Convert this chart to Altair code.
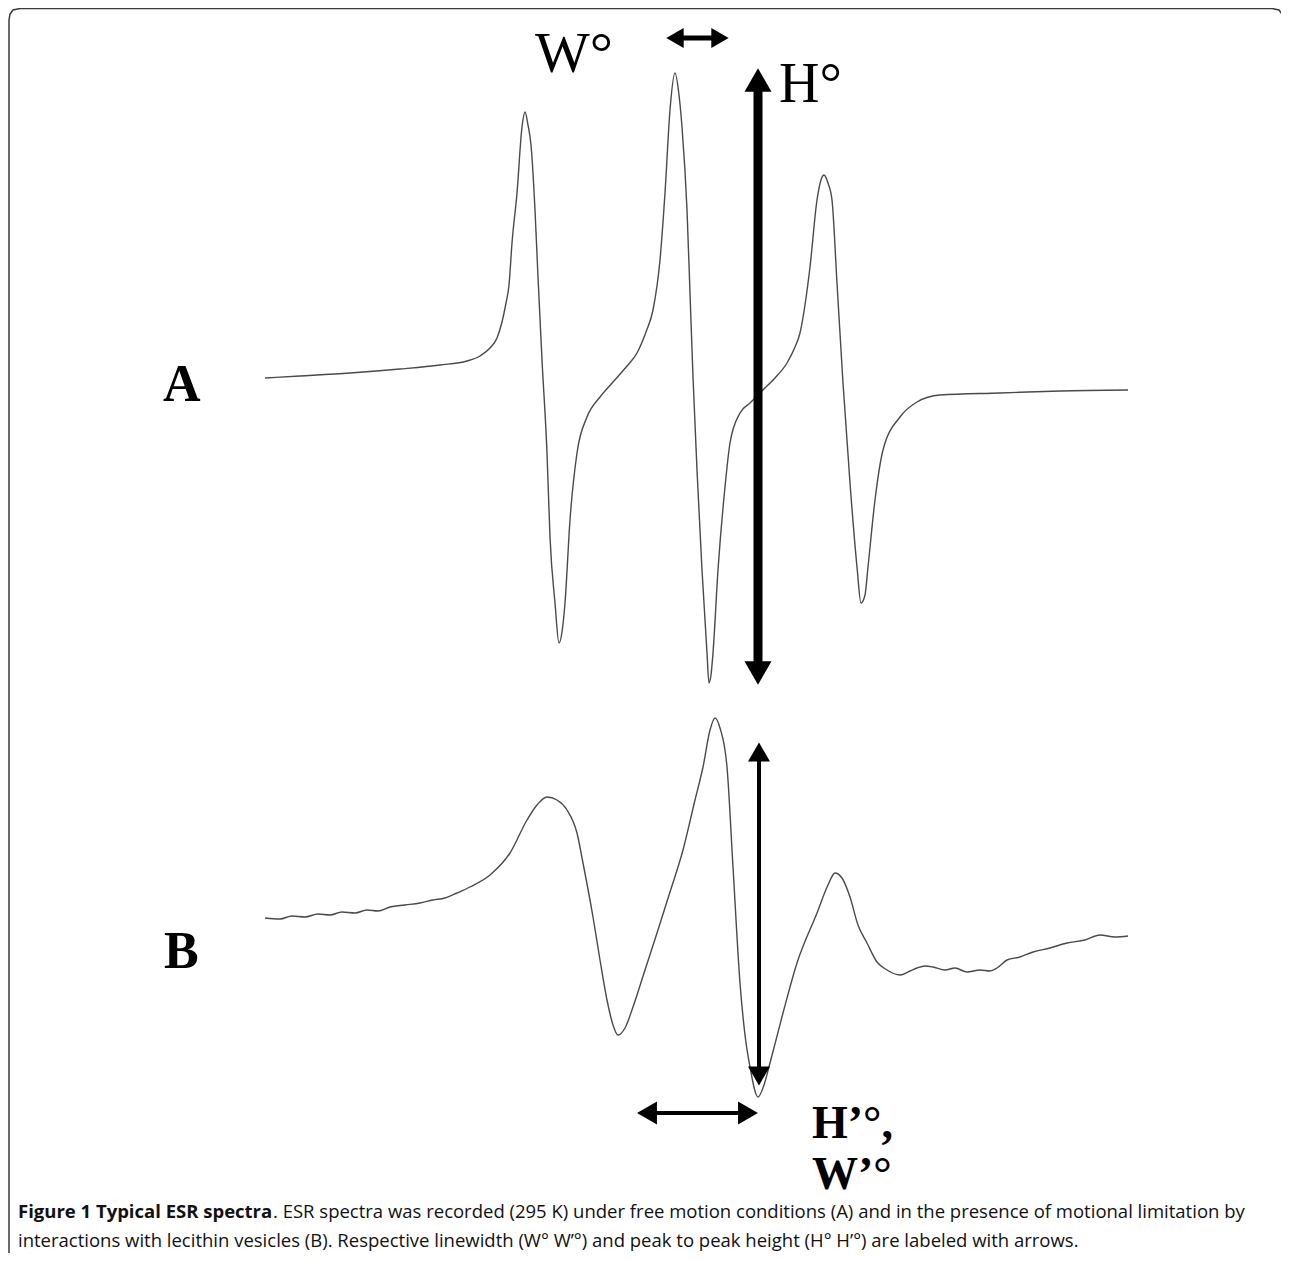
import altair as alt
import pandas as pd

# ---------------- data (figure units: field position → x, signal → y, y grows downward) -------------
# Spectrum A: free motion (three sharp nitroxide lines)
a_field = [265, 300, 350, 400, 440, 467, 480, 490, 497, 502, 506, 509, 512, 517, 522, 525, 528, 531, 535,
           538, 542, 547, 550, 555, 559, 562, 565, 570, 577, 587, 600, 613, 627, 637, 646, 653, 660,
           665, 670, 675, 679, 682, 687, 690, 693, 697, 702, 707, 709, 711, 713, 718, 725, 730, 740,
           750, 763, 775, 787, 795, 800, 805, 810, 817, 821, 824, 828, 832, 837, 843, 850, 857, 861,
           865, 868, 875, 883, 900, 917, 940, 1000, 1060, 1128]
a_signal = [378, 376, 373, 369, 365, 361, 356, 348, 338, 322, 303, 285, 243, 193, 127, 112, 125, 145, 210,
            277, 360, 453, 537, 603, 643, 632, 603, 520, 453, 417, 397, 382, 366, 353, 332, 310, 260,
            193, 110, 73, 95, 127, 210, 293, 377, 470, 570, 653, 683, 675, 653, 570, 487, 443, 413,
            403, 390, 378, 363, 347, 333, 305, 267, 200, 180, 175, 183, 200, 283, 383, 483, 567, 603,
            595, 567, 500, 450, 417, 402, 395, 393, 391, 390]

# Spectrum B: motionally restricted (lecithin vesicles)
b_field = [265, 280, 292, 305, 318, 330, 342, 355, 367, 378, 390, 405, 420, 433, 445, 457, 470, 490,
           510, 527, 537, 547, 557, 567, 577, 583, 593, 600, 607, 613, 618, 625, 633, 645, 657, 670,
           683, 695, 703, 710, 715, 720, 727, 733, 740, 745, 750, 758, 764, 770, 783, 797, 817, 828,
           835, 842, 850, 858, 867, 877, 887, 900, 910, 917, 925, 933, 945, 955, 967, 980, 990, 997,
           1007, 1020, 1033, 1050, 1067, 1085, 1100, 1115, 1128]
b_signal = [918, 919, 916, 917, 914, 915, 912, 913, 910, 911, 907, 905, 903, 900, 898, 893, 887, 875,
            853, 820, 805, 797, 800, 810, 833, 863, 917, 960, 1000, 1025, 1035, 1028, 1007, 970, 933, 892,
            850, 800, 767, 730, 718, 728, 767, 867, 983, 1035, 1067, 1097, 1085, 1063, 1013, 963, 913, 885,
            873, 878, 897, 925, 943, 962, 970, 975, 971, 968, 966, 967, 970, 968, 972, 970, 971, 968,
            960, 957, 952, 948, 943, 940, 935, 937, 936]

# Arrow shafts (field start/end, signal start/end, line width)
shaft_x = [758, 672, 759, 645]
shaft_x2 = [758, 723, 759, 750]
shaft_y = [80, 38, 750, 1113]
shaft_y2 = [673, 38, 1078, 1113]
shaft_w = [9, 5, 4, 4]

# Arrow heads
head_x = [758, 758, 675, 720, 759, 759, 647, 748]
head_y = [80, 673, 38, 38, 752, 1076, 1113, 1113]
head_shape = ["triangle-up", "triangle-down", "triangle-left", "triangle-right",
              "triangle-up", "triangle-down", "triangle-left", "triangle-right"]
head_size = [729, 729, 400, 400, 484, 484, 529, 529]

# Labels
lab_text = ["W°", "H°"]
lab_x = [535, 779]
lab_y = [72, 102]
lab_size = [58, 56]

blab_text = ["A", "B", "H’°,", "W’°"]
blab_x = [163, 164, 812, 812]
blab_y = [401, 968, 1138, 1189]
blab_size = [52, 52, 46, 46]

cap_bold = "Figure 1 Typical ESR spectra"
cap_line1 = ". ESR spectra was recorded (295 K) under free motion conditions (A) and in the presence of motional limitation by"
cap_line2 = "interactions with lecithin vesicles (B). Respective linewidth (W° W’°) and peak to peak height (H° H’°) are labeled with arrows."

# Figure frame outline
frame_x = [9, 9, 10, 13, 20, 1272, 1279, 1282, 1283, 1283]
frame_y = [1257, 20, 14, 10, 8.5, 8.5, 10, 14, 20, 24]

# ---------------- chart ----------------
W, H = 1273, 1245
xs = alt.Scale(domain=[8, 8 + W], nice=False, zero=False)
ys = alt.Scale(domain=[8, 8 + H], nice=False, zero=False, reverse=True)


def X(f="x"):
    return alt.X(f"{f}:Q", scale=xs, axis=None)


def Y(f="y"):
    return alt.Y(f"{f}:Q", scale=ys, axis=None)


spec_df = pd.concat([
    pd.DataFrame({"x": a_field, "y": a_signal, "s": "A", "i": range(len(a_field))}),
    pd.DataFrame({"x": b_field, "y": b_signal, "s": "B", "i": range(len(b_field))}),
])

traces = alt.Chart(spec_df).mark_line(
    color="#4a4a4a", strokeWidth=1.4, interpolate="monotone"
).encode(x=X(), y=Y(), detail="s:N", order="i:Q")

frame_df = pd.DataFrame({"x": frame_x, "y": frame_y, "i": range(len(frame_x))})
frame = alt.Chart(frame_df).mark_line(color="#3a3a3a", strokeWidth=1.5).encode(
    x=X(), y=Y(), order="i:Q")

shaft_df = pd.DataFrame({"x": shaft_x, "x2": shaft_x2, "y": shaft_y, "y2": shaft_y2, "w": shaft_w})
shafts = alt.Chart(shaft_df).mark_rule(color="black").encode(
    x=X(), x2="x2:Q", y=Y(), y2="y2:Q",
    strokeWidth=alt.StrokeWidth("w:Q", scale=None))

head_df = pd.DataFrame({"x": head_x, "y": head_y, "shape": head_shape, "size": head_size})
heads = alt.Chart(head_df).mark_point(filled=True, color="black", opacity=1, strokeWidth=0).encode(
    x=X(), y=Y(),
    shape=alt.Shape("shape:N", scale=None),
    size=alt.Size("size:Q", scale=None))

lab_df = pd.DataFrame({"x": lab_x, "y": lab_y, "t": lab_text, "fs": lab_size})
labels = alt.Chart(lab_df).mark_text(
    font="Liberation Serif", align="left", baseline="alphabetic", color="black"
).encode(x=X(), y=Y(), text="t:N", size=alt.Size("fs:Q", scale=None))

blab_df = pd.DataFrame({"x": blab_x, "y": blab_y, "t": blab_text, "fs": blab_size})
blabels = alt.Chart(blab_df).mark_text(
    font="Liberation Serif", fontWeight="bold", align="left", baseline="alphabetic", color="black"
).encode(x=X(), y=Y(), text="t:N", size=alt.Size("fs:Q", scale=None))

cap_b_df = pd.DataFrame({"x": [18], "y": [1218], "t": [cap_bold]})
cap_b = alt.Chart(cap_b_df).mark_text(
    font="Open Sans", fontWeight="bold", fontSize=18.5, align="left", baseline="alphabetic", color="#111111"
).encode(x=X(), y=Y(), text="t:N")

cap_r_df = pd.DataFrame({"x": [273, 18], "y": [1218, 1247], "t": [cap_line1, cap_line2]})
cap_r = alt.Chart(cap_r_df).mark_text(
    font="Open Sans", fontSize=18.5, align="left", baseline="alphabetic", color="#111111"
).encode(x=X(), y=Y(), text="t:N")

chart = alt.layer(frame, traces, shafts, heads, labels, blabels, cap_b, cap_r).properties(
    width=W, height=H, padding=0, autosize="none"
).configure_view(stroke=None)

chart.save("out.html", embed_options={"renderer": "svg", "actions": False})
